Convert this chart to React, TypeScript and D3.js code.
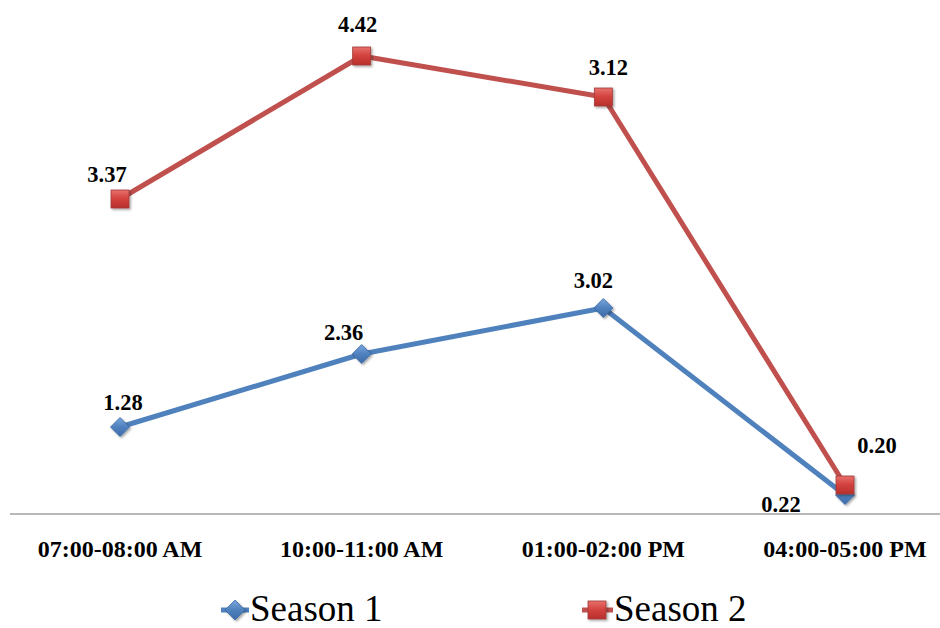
import React from "react";
import * as d3 from "d3";

const categories = ["07:00-08:00 AM", "10:00-11:00 AM", "01:00-02:00 PM", "04:00-05:00 PM"];
// plotted heights
const season1Values = [0.86, 1.59, 2.05, 0.18];
const season2Values = [3.14, 4.57, 4.16, 0.28];
// printed data labels
const season1Labels = ["1.28", "2.36", "3.02", "0.22"];
const season2Labels = ["3.37", "4.42", "3.12", "0.20"];
const seriesNames = ["Season 1", "Season 2"];

const W = 940;
const H = 628;
const BLUE = "#4F81BD";
const RED = "#C0504D";
const FONT = "Liberation Serif";

export default function App() {
  const x = d3.scalePoint<string>().domain(categories).range([120, 845]);
  const y = d3.scaleLinear().domain([0, 5.13]).range([513, 0]);
  const line = d3
    .line<number>()
    .x((_, i) => x(categories[i]) as number)
    .y((v) => y(v));

  // label offsets [dx, dy] relative to the marker
  const s1Off = [[3, -17], [-18, -14], [-10, -20], [-64, 17]];
  const s2Off = [[-13, -17], [-4, -24], [5, -22], [32, -32]];

  const diamond = (cx: number, cy: number, r: number, key: string) => (
    <path
      key={key}
      d={`M${cx},${cy - r}L${cx + r},${cy}L${cx},${cy + r}L${cx - r},${cy}Z`}
      fill="url(#gBlue)"
      stroke="#3A6AA5"
      strokeWidth={0.8}
      filter="url(#shadow)"
    />
  );
  const square = (cx: number, cy: number, s: number, key: string) => (
    <rect
      key={key}
      x={cx - s / 2}
      y={cy - s / 2}
      width={s}
      height={s}
      fill="url(#gRed)"
      stroke="#9E3B38"
      strokeWidth={0.8}
      filter="url(#shadow)"
    />
  );

  return (
    <svg width={W} height={H} style={{ position: "absolute", left: 0, top: 0, background: "#fff" }}>
      <defs>
        <linearGradient id="gRed" x1="0" y1="0" x2="0" y2="1">
          <stop offset="0" stopColor="#E8706C" />
          <stop offset="0.5" stopColor="#D2413D" />
          <stop offset="1" stopColor="#B8302C" />
        </linearGradient>
        <linearGradient id="gBlue" x1="0" y1="0" x2="0" y2="1">
          <stop offset="0" stopColor="#7AA6E0" />
          <stop offset="0.5" stopColor="#4F81BD" />
          <stop offset="1" stopColor="#3D6DAA" />
        </linearGradient>
        <filter id="shadow" x="-50%" y="-50%" width="200%" height="200%">
          <feDropShadow dx="1.5" dy="1.5" stdDeviation="1" floodColor="#000" floodOpacity="0.35" />
        </filter>
      </defs>

      {/* axis line */}
      <line x1={10} x2={940} y1={514} y2={514} stroke="#A0A0A0" strokeWidth={1.5} />

      {/* category labels */}
      {categories.map((c) => (
        <text
          key={c}
          x={x(c) as number}
          y={557}
          textAnchor="middle"
          fontFamily={FONT}
          fontWeight="bold"
          fontSize={24}
          fill="#000"
        >
          {c}
        </text>
      ))}

      {/* lines */}
      <path d={line(season1Values) || ""} fill="none" stroke={BLUE} strokeWidth={5} strokeLinejoin="round" />
      <path d={line(season2Values) || ""} fill="none" stroke={RED} strokeWidth={5} strokeLinejoin="round" />

      {/* markers */}
      {season1Values.map((v, i) => diamond(x(categories[i]) as number, y(v), 9.5, "d" + i))}
      {season2Values.map((v, i) => square(x(categories[i]) as number, y(v), 18, "s" + i))}

      {/* data labels */}
      {season1Values.map((v, i) => (
        <text
          key={"l1" + i}
          x={(x(categories[i]) as number) + s1Off[i][0]}
          y={y(v) + s1Off[i][1]}
          textAnchor="middle"
          fontFamily={FONT}
          fontWeight="bold"
          fontSize={22.5}
        >
          {season1Labels[i]}
        </text>
      ))}
      {season2Values.map((v, i) => (
        <text
          key={"l2" + i}
          x={(x(categories[i]) as number) + s2Off[i][0]}
          y={y(v) + s2Off[i][1]}
          textAnchor="middle"
          fontFamily={FONT}
          fontWeight="bold"
          fontSize={22.5}
        >
          {season2Labels[i]}
        </text>
      ))}

      {/* legend */}
      <g>
        <line x1={221} x2={249} y1={610} y2={610} stroke={BLUE} strokeWidth={5} />
        {diamond(235, 610, 10, "ld")}
        <text x={250} y={621} fontFamily={FONT} fontSize={37} fill="#000">
          {seriesNames[0]}
        </text>
        <line x1={582} x2={613} y1={610} y2={610} stroke={RED} strokeWidth={5} />
        {square(597, 610, 18, "ls")}
        <text x={614} y={621} fontFamily={FONT} fontSize={37} fill="#000">
          {seriesNames[1]}
        </text>
      </g>
    </svg>
  );
}
